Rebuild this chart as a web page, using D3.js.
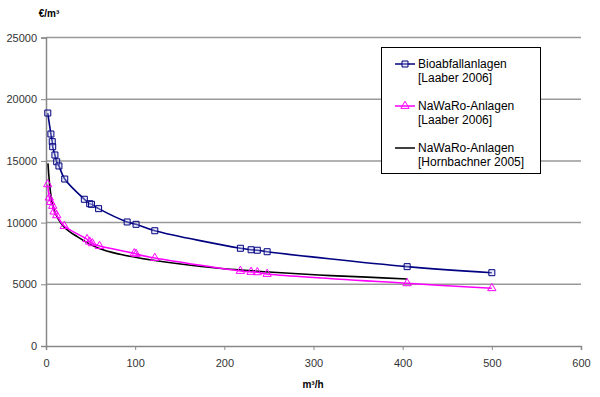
<!DOCTYPE html>
<html><head><meta charset="utf-8">
<script src="https://cdn.jsdelivr.net/npm/d3@7"></script>
<style>body{margin:0;background:#fff}svg{display:block;font-family:"Liberation Sans",Arial,sans-serif}</style>
</head><body><svg id="c" width="600" height="397"></svg>
<script>
// Data
const bioX = [2,5.5,7,7.5,10,12,14.5,21,43,49,51,59,91,101,122,218,230,237,248,405,500];
const bioY = [18880,17180,16560,16150,15480,14930,14590,13530,11890,11530,11480,11130,10050,9860,9340,7920,7800,7760,7640,6430,5940];
const nawX = [1.9,3.7,5.2,7.5,9,12,20.5,46,49,52,60,99,101,122,218,230,237,248,405,500];
const nawY = [13100,12020,11670,11350,10890,10590,9720,8650,8450,8320,8100,7510,7460,7130,6080,6000,5970,5840,5080,4680];
const hornX = [2.2,5,9,20,35,59,83,120,194,250,306,360,405];
const hornY = [14800,12500,11020,9670,8860,7920,7430,6950,6300,6000,5750,5580,5430];
const xTicks = [0,100,200,300,400,500,600];
const yTicks = [0,5000,10000,15000,20000,25000];
const legendLabels = [["Bioabfallanlagen","[Laaber 2006]"],["NaWaRo-Anlagen","[Laaber 2006]"],["NaWaRo-Anlagen","[Hornbachner 2005]"]];

const svg = d3.select("#c");
const x = d3.scaleLinear().domain([0,600]).range([46,581]);
const y = d3.scaleLinear().domain([0,25000]).range([346,37.5]);

// gridlines
svg.append("g").selectAll("line").data(yTicks.filter(d=>d>0)).join("line")
  .attr("x1",x(0)).attr("x2",x(600)).attr("y1",d=>y(d)).attr("y2",d=>y(d))
  .attr("stroke","#999").attr("stroke-width",1.5);

// axes
const gx = svg.append("g").attr("transform",`translate(0,${y(0)})`)
  .call(d3.axisBottom(x).tickValues(xTicks).tickSize(4).tickPadding(9).tickFormat(d3.format("d")));
const gy = svg.append("g").attr("transform",`translate(${x(0)},0)`)
  .call(d3.axisLeft(y).tickValues(yTicks).tickSize(5).tickPadding(4).tickFormat(d3.format("d")));
[gx,gy].forEach(g=>{
  g.select(".domain").attr("stroke","#888").attr("stroke-width",1.5);
  g.selectAll(".tick line").attr("stroke","#888");
  g.selectAll("text").attr("font-size",11).attr("fill","#333").attr("font-family","Liberation Sans, Arial, sans-serif");
});

const curve = d3.curveCatmullRom.alpha(0.5);
const line = d3.line().x(d=>x(d[0])).y(d=>y(d[1])).curve(curve);
const bio = bioX.map((v,i)=>[v,bioY[i]]);
const naw = nawX.map((v,i)=>[v,nawY[i]]);
const horn = hornX.map((v,i)=>[v,hornY[i]]);

svg.append("path").datum(horn).attr("d",line).attr("fill","none").attr("stroke","#000").attr("stroke-width",1.6);
svg.append("path").datum(naw).attr("d",line).attr("fill","none").attr("stroke","#ff00ff").attr("stroke-width",1.5);
svg.append("path").datum(bio).attr("d",line).attr("fill","none").attr("stroke","#000080").attr("stroke-width",1.6);

const sq = d3.symbol().type(d3.symbolSquare).size(36);
const tri = d3.symbol().type(d3.symbolTriangle).size(30);
svg.append("g").selectAll("path").data(naw).join("path")
  .attr("transform",d=>`translate(${x(d[0])},${y(d[1])})`).attr("d",tri)
  .attr("fill","none").attr("stroke","#ff00ff").attr("stroke-width",1);
svg.append("g").selectAll("path").data(bio).join("path")
  .attr("transform",d=>`translate(${x(d[0])},${y(d[1])})`).attr("d",sq)
  .attr("fill","rgba(200,200,240,0.35)").attr("stroke","#000080").attr("stroke-width",1);

// axis titles
svg.append("text").attr("x",49).attr("y",17).attr("text-anchor","middle").attr("font-size",10).attr("font-weight","bold").text("€/m³");
svg.append("text").attr("x",313).attr("y",388).attr("text-anchor","middle").attr("font-size",10).attr("font-weight","bold").text("m³/h");

// legend
const lg = svg.append("g");
lg.append("rect").attr("x",381.5).attr("y",47.5).attr("width",159).attr("height",126).attr("fill","#fff").attr("stroke","#000");
const ly = [64,106,148];
const colors = ["#000080","#ff00ff","#000"];
legendLabels.forEach((lab,i)=>{
  lg.append("line").attr("x1",395).attr("x2",415).attr("y1",ly[i]).attr("y2",ly[i]).attr("stroke",colors[i]).attr("stroke-width",1.5);
  if(i===0) lg.append("path").attr("transform",`translate(405,${ly[i]})`).attr("d",sq).attr("fill","rgba(200,200,240,0.35)").attr("stroke","#000080");
  if(i===1) lg.append("path").attr("transform",`translate(405,${ly[i]})`).attr("d",tri).attr("fill","none").attr("stroke","#ff00ff");
  const t = lg.append("text").attr("x",418).attr("y",ly[i]+4).attr("font-size",12).attr("fill","#000");
  t.append("tspan").attr("x",418).text(lab[0]);
  t.append("tspan").attr("x",418).attr("dy",13.5).text(lab[1]);
});
</script></body></html>
